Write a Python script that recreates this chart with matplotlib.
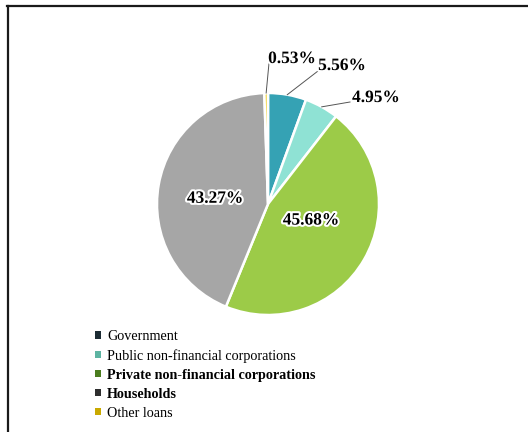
import matplotlib
matplotlib.use("Agg")
import matplotlib.pyplot as plt
import matplotlib.patheffects as pe
from matplotlib.patches import Patch
from matplotlib.lines import Line2D
import numpy as np

categories = ["Government", "Public non-financial corporations",
              "Private non-financial corporations", "Households", "Other loans"]
values = [5.56, 4.95, 45.68, 43.27, 0.53]
labels = ["5.56%", "4.95%", "45.68%", "43.27%", "0.53%"]
pie_colors = ["#35A2B4", "#8FE2D4", "#9CCB48", "#A6A6A6", "#EFD23A"]
legend_colors = ["#1C2B33", "#5DB4A2", "#4B7D1E", "#2E2E2E", "#C9A900"]
legend_bold = [False, False, True, True, False]

W, H = 528, 432
fig = plt.figure(figsize=(W / 100, H / 100), dpi=100)
ax = fig.add_axes([0, 0, 1, 1])

cx, cy, r = 268, H - 204, 111
wedges, _ = ax.pie(values, colors=pie_colors, startangle=90, counterclock=False,
                   center=(cx, cy), radius=r, frame=True,
                   wedgeprops=dict(edgecolor="white", linewidth=1.8))
ax.set_xlim(0, W)
ax.set_ylim(0, H)
ax.set_aspect("equal")
ax.axis("off")

serif = ["Liberation Serif", "DejaVu Serif"]
glow = [pe.withStroke(linewidth=3, foreground="white")]
fs = 12.5

# inside labels: (distance fraction, dx, dy) relative to wedge mid-angle
inside = {2: (0.46, -1, 9), 3: (0.52, 4, -5)}
for i, (dist, dx, dy) in inside.items():
    w = wedges[i]
    ang = np.deg2rad((w.theta1 + w.theta2) / 2)
    ax.text(cx + dist * r * np.cos(ang) + dx, cy + dist * r * np.sin(ang) + dy,
            labels[i], ha="center", va="center", fontsize=fs, fontweight="bold",
            family=serif, path_effects=glow)

# outside labels with leader lines
outside = {0: ((318, H - 71), (342, H - 66)),
           1: ((350, H - 102), (376, H - 98)),
           4: ((269, H - 63), (292, H - 59))}
for i, (elbow, tpos) in outside.items():
    w = wedges[i]
    ang = np.deg2rad((w.theta1 + w.theta2) / 2)
    px, py = cx + r * np.cos(ang), cy + r * np.sin(ang)
    ax.plot([px, elbow[0]], [py, elbow[1]], color="#555555", lw=0.7)
    ax.text(tpos[0], tpos[1], labels[i], ha="center", va="center",
            fontsize=fs, fontweight="bold", family=serif, path_effects=glow)

handles = [Patch(facecolor=c, edgecolor="none") for c in legend_colors]
leg = fig.legend(handles, categories, loc="upper left",
                 bbox_to_anchor=(95 / W, 1 - 330 / H), frameon=False,
                 prop={"family": serif, "size": 10.2},
                 handlelength=0.45, handleheight=0.45, handletextpad=0.4,
                 labelspacing=0.42, borderaxespad=0, borderpad=0)
for t, b in zip(leg.get_texts(), legend_bold):
    if b:
        t.set_fontweight("bold")

# frame lines
fig.add_artist(Line2D([7.5 / W, 7.5 / W], [0, 1 - 6 / H], transform=fig.transFigure,
                      color="#1a1a1a", lw=1.6))
fig.add_artist(Line2D([7 / W, 1], [1 - 6 / H, 1 - 6 / H], transform=fig.transFigure,
                      color="#1a1a1a", lw=1.6))

fig.savefig("out.png", dpi=100)
